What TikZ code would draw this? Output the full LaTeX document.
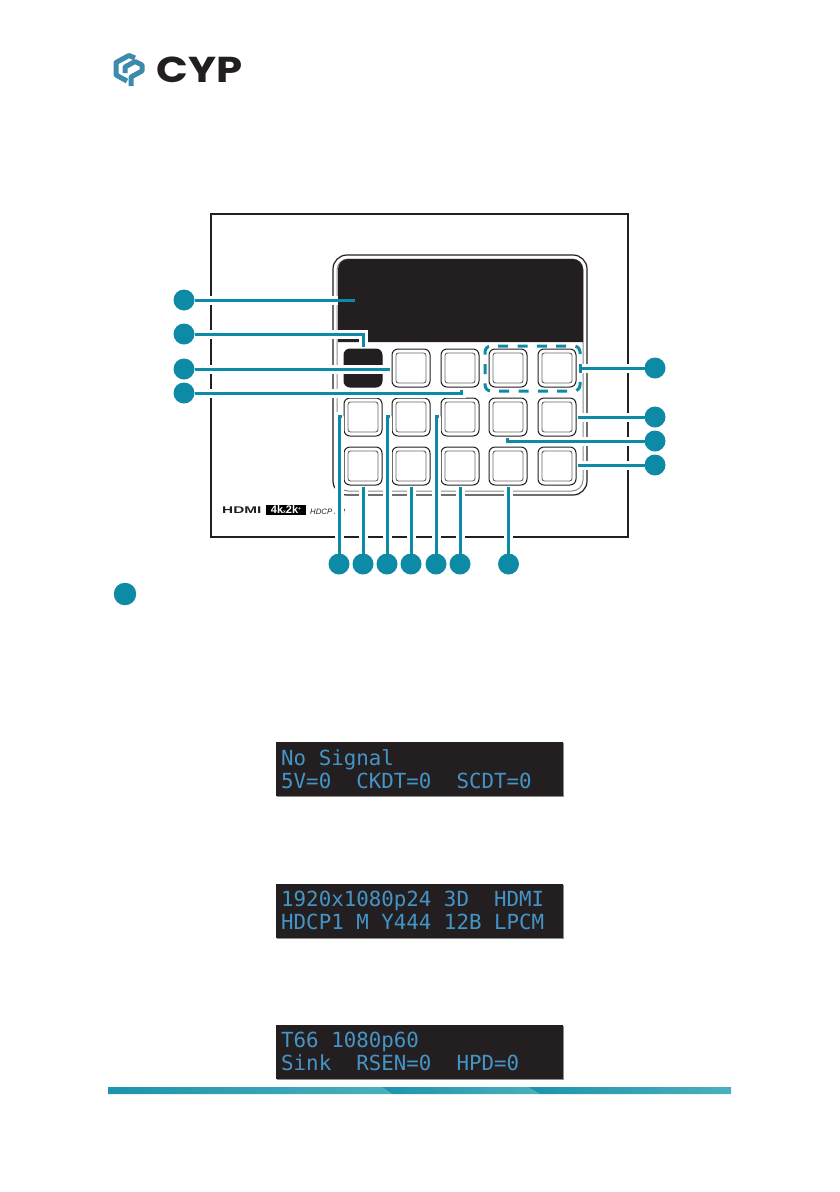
\documentclass[tikz,border=0pt]{standalone}
\usepackage{fontspec}
\setmainfont{Liberation Sans}
\newfontfamily\lcdfont{DejaVu Sans Mono}
\newfontfamily\logofont{Poppins}
\usetikzlibrary{arrows.meta,positioning,calc}
\tikzset{
  lead/.style={cypT,line width=3pt},
  halolead/.style={lead,preaction={draw=white,line width=9pt}},
  callout/.style={circle,fill=cypT,minimum size=21pt,inner sep=0pt,outer sep=0pt},
  btn/.style={draw=cypK,fill=white,line width=1pt,rounded corners=6pt,minimum size=38pt,inner sep=0pt,outer sep=0pt},
  btninner/.style={draw=black!60,line width=0.9pt,rounded corners=2.5pt,minimum size=30pt,inner sep=0pt},
  lcd/.style={fill=cypK,minimum width=287pt,minimum height=54pt,inner sep=0pt,outer sep=0pt},
  lcdtext/.style={anchor=base west,inner sep=0pt,text=lcdB,font=\lcdfont\fontsize{20.8}{20.8}\selectfont},
  groupdash/.style={cypT,line width=3pt,dash pattern=on 10pt off 9.3pt,dash phase=5pt,rounded corners=6pt},
}
\begin{document}
\begin{tikzpicture}[x=1pt,y=-1pt]
\definecolor{cypT}{rgb}{0.05,0.54,0.65}
\definecolor{cypL}{rgb}{0.24,0.54,0.68}
\definecolor{cypK}{rgb}{0.137,0.122,0.125}
\definecolor{lcdB}{rgb}{0.27,0.58,0.78}
\definecolor{barA}{rgb}{0.11,0.58,0.68}
\definecolor{barB}{rgb}{0.29,0.69,0.74}
\useasboundingbox (0,0) rectangle (840,1192);
% logo
\draw[cypL,line width=5pt,line join=round] (135,58) -- (129,55.5) -- (116,62.5) -- (116,75) -- (127,81);
\draw[cypL,line width=5pt,line join=round] (125,73) -- (125,67) -- (135,61.5) -- (142,65) -- (142,71) -- (131,77) -- (131,86);
\node[anchor=base west,inner sep=0pt,text=cypK] (logotext) at (156,82.5)
  {\logofont\bfseries\fontsize{36}{36}\selectfont\scalebox{1.16}[1]{CYP}};
% front panel frame
\draw[cypK,line width=2pt] (211,214) rectangle (628,537);
\node[anchor=base west,inner sep=0pt,text=cypK] (hdmi) at (222,513)
  {\bfseries\fontsize{9.7}{9.7}\selectfont\scalebox{1.58}[1]{HDMI}};
\node[fill=black,text=white,minimum width=40pt,minimum height=10pt,inner sep=0pt] (uhd) at (286,510)
  {\bfseries\fontsize{11}{11}\selectfont 4k{\fontsize{5}{5}\selectfont x}2k{\fontsize{5}{5}\selectfont\raisebox{3pt}{+}}};
\node[anchor=base west,inner sep=0pt,text=cypK] (hdcp) at (310,514)
  {\itshape\fontsize{7.8}{7.8}\selectfont HDCP 2.2};
\draw[cypK,line width=1.2pt,rounded corners=14pt] (333,255) rectangle (587,495);
\draw[black!45,line width=1pt,rounded corners=11pt] (337,259) rectangle (583,491);
% callouts
\foreach \name/\px/\py in {n1/184/300,n2/184/334,n3/184/369,n4/184/393,
  n5/339/564,n6/363/564,n7/387/564,n8/411/564,n9/436/564,n10/460/564,n11/508.5/564,
  n12/655/465,n13/655/441,n14/655/417,n16/655/368}
  \node[callout] (\name) at (\px,\py) {};
\node[callout,minimum size=22.5pt] (n15) at (125,594) {};
\coordinate (e1) at (355,300);
\draw[line width=9pt,white] (n1) -- (e1);
% display
\fill[cypK] (338,342) -- (338,269) .. controls (338,263.5) and (342.5,259) .. (348,259) -- (573,259)
  .. controls (578.5,259) and (583,263.5) .. (583,269) -- (583,342) -- cycle;
\draw[lead] (n1) -- (e1);
% buttons
\node[btn,fill=cypK] (b11) at (363,368) {};
\foreach \cx [count=\c] in {363,411,460,508,557}{
  \foreach \cy [count=\r] in {368,417,466}{
    \ifnum\numexpr\r*10+\c\relax=11 \else
      \node[btn] (b\r\c) at (\cx,\cy) {};
      \node[btninner] at (b\r\c.center) {};
    \fi
  }
}
% leads
\coordinate (e2) at (363,347);
\draw[halolead,line join=miter] (n2) -- (n2 -| e2) -- (e2);
\coordinate (e3) at (390,369);
\draw[halolead] (n3) -- (e3);
\coordinate (e4) at (461,390);
\draw[halolead] (n4) -- (n4 -| e4) -- (e4);
\foreach \name/\tx in {n6/363,n8/411,n10/460,n11/508.5}{
  \coordinate (t\name) at (\tx,487);
  \draw[halolead] (\name) -- (t\name);
}
\foreach \name/\tx in {n5/342,n7/390,n9/439}{
  \coordinate (t\name) at (\tx,416);
  \draw[halolead] (\name) -- (\name |- t\name) -- (t\name);
}
\coordinate (e12) at (578,465);
\draw[halolead] (n12) -- (e12);
\coordinate (e13) at (507,438);
\draw[halolead] (n13) -- (n13 -| e13) -- (e13);
\coordinate (e14) at (578,417);
\draw[halolead] (n14) -- (e14);
% dashed group
\coordinate (e16) at (580,368);
\draw[halolead] (n16) -- (e16);
\draw[lead] ($(e16)+(0,-4.5)$) -- ($(e16)+(0,4.5)$);
\draw[groupdash] (485,369) -- (485,346) -- (580,346) -- (580,360);
\draw[groupdash] (485,369) -- (485,391) -- (580,391) -- (580,378);
% status screens
\node[lcd,fill=black!45] at (420,769.5) {};
\node[lcd] (lcdA) at (419.5,768.5) {};
\node[lcdtext] at (281,765) {No~Signal};
\node[lcdtext] at (281,788) {5V=0~~CKDT=0~~SCDT=0};
\node[lcd,fill=black!45] at (420,911.5) {};
\node[lcd] (lcdB) at (419.5,910.5) {};
\node[lcdtext] at (281,906) {1920x1080p24~3D~~HDMI};
\node[lcdtext] at (281,929) {HDCP1~M~Y444~12B~LPCM};
\node[lcd,fill=black!45] at (420,1052.5) {};
\node[lcd] (lcdC) at (419.5,1051.5) {};
\node[lcdtext] at (281,1047) {T66~1080p60};
\node[lcdtext] at (281,1070) {Sink~~RSEN=0~~HPD=0};
% bottom bar
\shade[left color=barA,right color=barB] (108,1087) -- (382,1087) -- (392,1094) -- (108,1094) -- cycle;
\shade[left color=barA,right color=barB] (382,1087) -- (528,1087) -- (540,1094) -- (392,1094) -- cycle;
\shade[left color=barA,right color=barB] (528,1087) -- (731,1087) -- (731,1094) -- (540,1094) -- cycle;
\end{tikzpicture}
\end{document}
